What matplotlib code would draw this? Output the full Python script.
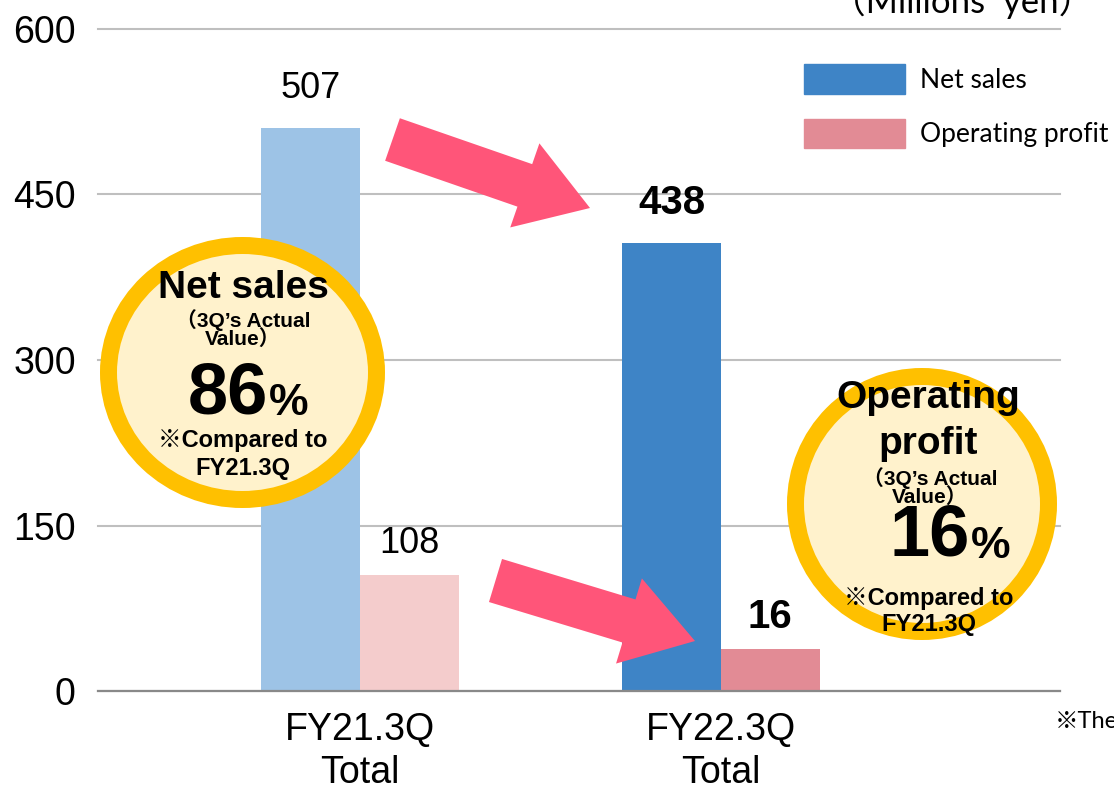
import matplotlib.pyplot as plt
import numpy as np
from matplotlib.patches import Ellipse, Polygon, Patch

# Data
categories = ['FY21.3Q\nTotal', 'FY22.3Q\nTotal']
net_sales = [510, 406]          # bar heights as drawn
op_profit = [105, 38]
net_labels = ['507', '438']     # printed values
op_labels = ['108', '16']
yticks = [0, 150, 300, 450, 600]

W, H = 1114, 787
fig = plt.figure(figsize=(W / 100, H / 100), dpi=100)
ax = fig.add_axes([98 / W, 96 / H, 962 / W, 662 / H])

sans = ['Liberation Sans', 'Noto Sans CJK JP', 'DejaVu Sans']
calib = ['Lato', 'Noto Sans CJK JP', 'DejaVu Sans']

x = np.arange(len(categories))
w = 0.273
c_net = ['#9DC3E6', '#3E84C6']
c_op = ['#F4CCCC', '#E28B95']
ax.bar(x - w / 2, net_sales, w, color=c_net, zorder=2)
ax.bar(x + w / 2, op_profit, w, color=c_op, zorder=2)

ax.set_xlim(-0.7258, 1.939)
ax.set_ylim(0, 600)
ax.set_yticks(yticks)
ax.set_yticklabels([str(t) for t in yticks], fontsize=27, family=sans)
ax.set_xticks(x)
ax.set_xticklabels(categories, fontsize=27, family=sans, linespacing=1.25)
ax.tick_params(axis='y', length=0, pad=16)
ax.tick_params(axis='x', length=0, pad=15)
for s in ['top', 'right', 'left']:
    ax.spines[s].set_visible(False)
ax.spines['bottom'].set_color('#898989')
ax.spines['bottom'].set_linewidth(1.6)
ax.yaxis.grid(True, color='#BFBFBF', linewidth=1.5)
ax.set_axisbelow(True)
for gl in ax.get_ygridlines():
    gl.set_clip_on(False)

# value labels
for i in range(len(categories)):
    bold = i == 1
    ax.annotate(net_labels[i], (x[i] - w / 2, net_sales[i]), xytext=(0, 29),
                textcoords='offset points', ha='center', va='center',
                fontsize=29 if bold else 26, fontweight='bold' if bold else 'normal',
                family=sans)
    ax.annotate(op_labels[i], (x[i] + w / 2, op_profit[i]), xytext=(0, 23),
                textcoords='offset points', ha='center', va='center',
                fontsize=29 if bold else 26, fontweight='bold' if bold else 'normal',
                family=sans)

# legend
handles = [Patch(color=c_net[1], label='Net sales'),
           Patch(color=c_op[1], label='Operating profit')]
leg = ax.legend(handles=handles, loc='upper left', frameon=False,
                bbox_to_anchor=(804 / W, 1 - 64 / H), bbox_transform=fig.transFigure,
                prop={'family': calib, 'size': 19}, handlelength=3.83, handleheight=1.35,
                labelspacing=0.95, handletextpad=0.55, borderpad=0, borderaxespad=0)

fig.text(962 / W, 1 - 13 / H, '（Millions  yen）', ha='center', va='baseline',
         fontsize=25, family=calib)
fig.text(1055 / W, 1 - 722 / H, '※The', ha='left', va='center', fontsize=17, family=calib)


def P(px, py):
    return (px / W, 1 - py / H)


def arrow(tail, tip, shaft=45, head_w=89, head_l=69):
    t = np.array(tail, float)
    p = np.array(tip, float)
    d = p - t
    d /= np.hypot(*d)
    n = np.array([-d[1], d[0]])
    b = p - d * head_l
    pts = [t + n * shaft / 2, b + n * shaft / 2, b + n * head_w / 2, p,
           b - n * head_w / 2, b - n * shaft / 2, t - n * shaft / 2]
    pts = [P(*q) for q in pts]
    fig.add_artist(Polygon(pts, closed=True, transform=fig.transFigure,
                           facecolor='#FF5579', edgecolor='none', zorder=3))


arrow((392.5, 139.5), (590, 208))
arrow((495.5, 580.5), (695, 641))


def badge(cx, cy, rx, ry):
    ring = 17
    fig.add_artist(Ellipse(P(cx, cy), 2 * (rx - ring / 2) / W, 2 * (ry - ring / 2) / H,
                           transform=fig.transFigure, facecolor='#FFF2CC',
                           edgecolor='#FFC000', linewidth=ring * 0.72, zorder=4))


badge(242.5, 372.5, 142.5, 135.5)
badge(922, 504, 135, 136)


def t(px, py, s, size, ha='center', ls=1.0):
    fig.text(px / W, 1 - py / H, s, ha=ha, va='center', fontsize=size,
             fontweight='bold', family=sans, zorder=5, linespacing=ls,
             multialignment='center')


# badge 1
t(243, 288, 'Net sales', 28)
t(243, 329, '（3Q’s Actual\nValue）', 15, ls=0.92)
t(268, 395, '86', 52, ha='right')
t(269, 404, '%', 32, ha='left')
t(243, 441, '※Compared to', 17)
t(243, 468, 'FY21.3Q', 17)

# badge 2
t(928, 398, 'Operating', 28)
t(928, 444, 'profit', 28)
t(930, 487, '（3Q’s Actual\nValue）', 15, ls=0.92)
t(970, 537, '16', 52, ha='right')
t(971, 546, '%', 32, ha='left')
t(929, 598, '※Compared to', 17)
t(929, 625, 'FY21.3Q', 17)

fig.savefig('out.png', dpi=100)
